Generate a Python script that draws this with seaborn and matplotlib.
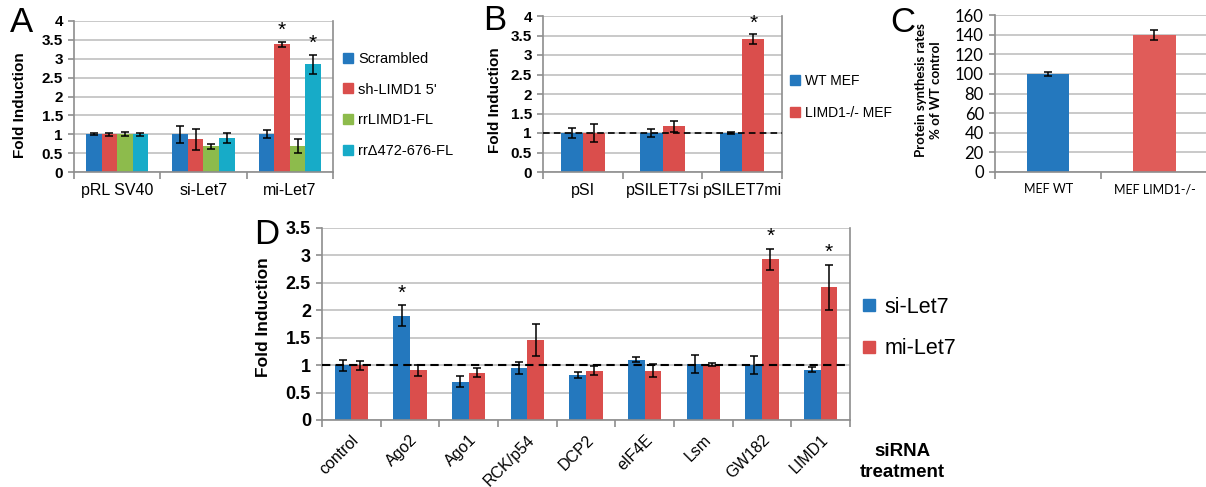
import numpy as np
import pandas as pd
import matplotlib.pyplot as plt
import seaborn as sns
from matplotlib.lines import Line2D
from matplotlib.container import BarContainer

# ---- data ----
# Panel A
a_groups = ["pRL SV40", "si-Let7", "mi-Let7"]
a_series = ["Scrambled", "sh-LIMD1 5'", "rrLIMD1-FL", "rrΔ472-676-FL"]
a_values = [[1.0, 1.0, 1.0], [1.0, 0.87, 3.38], [1.0, 0.68, 0.69], [1.0, 0.90, 2.85]]
a_errors = [[0.02, 0.22, 0.10], [0.04, 0.28, 0.07], [0.05, 0.07, 0.18], [0.04, 0.12, 0.25]]
a_stars = [(1, 2), (3, 2)]  # (series, group)

# Panel B
b_groups = ["pSI", "pSILET7si", "pSILET7mi"]
b_series = ["WT MEF", "LIMD1-/- MEF"]
b_values = [[1.0, 1.0, 1.0], [1.0, 1.17, 3.40]]
b_errors = [[0.13, 0.11, 0.02], [0.22, 0.15, 0.13]]
b_stars = [(1, 2)]

# Panel C
c_groups = ["MEF WT", "MEF LIMD1-/-"]
c_values = [100, 140]
c_errors = [2, 5]

# Panel D
d_groups = ["control", "Ago2", "Ago1", "RCK/p54", "DCP2", "eIF4E", "Lsm", "GW182", "LIMD1"]
d_series = ["si-Let7", "mi-Let7"]
d_values = [[1.0, 1.90, 0.70, 0.95, 0.82, 1.10, 1.02, 1.00, 0.92],
            [1.0, 0.91, 0.86, 1.46, 0.90, 0.90, 1.01, 2.93, 2.42]]
d_errors = [[0.10, 0.19, 0.10, 0.11, 0.05, 0.05, 0.16, 0.16, 0.05],
            [0.08, 0.10, 0.08, 0.29, 0.08, 0.12, 0.02, 0.19, 0.41]]
d_stars = [(0, 1), (1, 7), (1, 8)]

BLUE = "#2478BE"
RED = "#DA4E4C"
GREEN = "#8DBB4C"
CYAN = "#17ABC8"
GRID = "#C0C0C0"
SPINE = "#8E8E8E"

plt.rcParams["font.family"] = ["Liberation Sans", "DejaVu Sans"]

W, H = 1206, 487
fig = plt.figure(figsize=(W / 100, H / 100), dpi=100)


def px_axes(x0, x1, y0, y1):
    return fig.add_axes([x0 / W, 1 - y1 / H, (x1 - x0) / W, (y1 - y0) / H])


def add_errors(ax, errors, stars=(), star_off=0.05):
    bars = [c for c in ax.containers if isinstance(c, BarContainer)]
    for i, cont in enumerate(bars):
        for j, bar in enumerate(cont):
            xc = bar.get_x() + bar.get_width() / 2
            h = bar.get_height()
            ax.errorbar(xc, h, yerr=errors[i][j], fmt="none", ecolor="black",
                        elinewidth=1.1, capsize=3, capthick=1.1, zorder=5)
            if (i, j) in stars:
                ax.text(xc, h + errors[i][j] + star_off, "*", ha="center",
                        va="bottom", fontsize=15, zorder=6)


def draw_bars(ax, groups, series, values, errors, colors, width, stars, star_off):
    rows = []
    for s, vals in zip(series, values):
        for g, v in zip(groups, vals):
            rows.append({"group": g, "series": s, "value": v})
    df = pd.DataFrame(rows)
    sns.barplot(data=df, x="group", y="value", hue="series", hue_order=series,
                order=groups, palette=colors, width=width, saturation=1,
                errorbar=None, legend=False, ax=ax)
    add_errors(ax, errors, stars, star_off)


def style_axes(ax, n, ymax, step, right=True):
    ax.set_xlim(-0.5, n - 0.5)
    ax.set_ylim(0, ymax)
    ax.set_yticks(np.arange(0, ymax + step / 2, step))
    ax.yaxis.grid(True, color=GRID, lw=1.2)
    ax.set_axisbelow(True)
    ax.spines["top"].set_visible(False)
    ax.spines["right"].set_visible(right)
    for sp in ["left", "bottom", "right"]:
        ax.spines[sp].set_color(SPINE)
        ax.spines[sp].set_linewidth(1.2)
    ax.set_xticks(np.arange(-0.5, n, 1.0), minor=True)
    ax.tick_params(axis="x", which="major", length=0, pad=8)
    ax.tick_params(axis="x", which="minor", length=5, color=SPINE, width=1.2)
    ax.tick_params(axis="y", length=4, color=SPINE, width=1.2, pad=4)
    ax.set_xlabel("")
    ax.set_ylabel("")


def fmt_num(v):
    return f"{v:g}"


# ---- Panel A ----
axA = px_axes(74, 333, 21, 172)
draw_bars(axA, a_groups, a_series, a_values, a_errors, [BLUE, RED, GREEN, CYAN],
          0.72, a_stars, 0.05)
style_axes(axA, 3, 4, 0.5)
axA.set_yticklabels([fmt_num(v) for v in np.arange(0, 4.01, 0.5)],
                    fontweight="bold", fontsize=11)
axA.set_xticks(range(3))
axA.set_xticklabels(a_groups, fontsize=11.5)
fig.text(20 / W, 1 - 105 / H, "Fold Induction", rotation=90, ha="center",
         va="center", fontsize=11, fontweight="bold")
fig.text(10 / W, 1 - 22 / H, "A", fontsize=25, ha="left", va="center")

handles = [Line2D([], [], marker="s", ls="", color=c, markersize=6.5)
           for c in [BLUE, RED, GREEN, CYAN]]
fig.legend(handles, a_series, loc="upper left",
           bbox_to_anchor=(336 / W, 1 - 46 / H), frameon=False, fontsize=10.5,
           handlelength=0.8, handletextpad=0.3, labelspacing=1.15, borderaxespad=0)

# ---- Panel B ----
axB = px_axes(543, 782, 16, 172)
draw_bars(axB, b_groups, b_series, b_values, b_errors, [BLUE, RED], 0.56,
          b_stars, 0.05)
style_axes(axB, 3, 4, 0.5)
axB.set_yticklabels([fmt_num(v) for v in np.arange(0, 4.01, 0.5)],
                    fontweight="bold", fontsize=11)
axB.set_xticks(range(3))
axB.set_xticklabels(b_groups, fontsize=11.5)
axB.axhline(1, color="black", ls=(0, (4, 2.5)), lw=1.2, zorder=4)
fig.text(495 / W, 1 - 100 / H, "Fold Induction", rotation=90, ha="center",
         va="center", fontsize=11, fontweight="bold")
fig.text(483 / W, 1 - 20 / H, "B", fontsize=25, ha="left", va="center")

handles = [Line2D([], [], marker="s", ls="", color=c, markersize=6.5)
           for c in [BLUE, RED]]
fig.legend(handles, b_series, loc="upper left",
           bbox_to_anchor=(784 / W, 1 - 68 / H), frameon=False, fontsize=10,
           handlelength=0.8, handletextpad=0.3, labelspacing=1.3, borderaxespad=0)

# ---- Panel C ----
axC = px_axes(995, 1215, 15, 172)
dfc = pd.DataFrame({"group": c_groups, "value": c_values})
sns.barplot(data=dfc, x="group", y="value", hue="group", order=c_groups,
            palette=[BLUE, "#E05C59"], width=0.4, saturation=1, errorbar=None,
            legend=False, ax=axC)
bars_c = [b for c in axC.containers if isinstance(c, BarContainer) for b in c]
for bar, err in zip(bars_c, c_errors):
    axC.errorbar(bar.get_x() + bar.get_width() / 2, bar.get_height(), yerr=err,
                 fmt="none", ecolor="black", elinewidth=1.1, capsize=3,
                 capthick=1.1, zorder=5)
style_axes(axC, 2, 160, 20, right=False)
axC.set_xlim(-0.5, 1.57)
axC.set_xticks([-0.5, 0.5, 1.5], minor=True)
axC.set_yticklabels([str(v) for v in range(0, 161, 20)], fontsize=12,
                    family="Lato")
axC.set_xticks(range(2))
axC.set_xticklabels(c_groups, fontsize=9, family="Lato")
fig.text(928 / W, 1 - 90 / H, "Protein synthesis rates\n% of WT control",
         rotation=90, ha="center", va="center", fontsize=9.5, fontweight="bold",
         family="Lato", linespacing=1.3)
fig.text(890 / W, 1 - 22 / H, "C", fontsize=25, ha="left", va="center")

# ---- Panel D ----
axD = px_axes(322, 850, 228, 420)
draw_bars(axD, d_groups, d_series, d_values, d_errors, [BLUE, RED], 0.57,
          d_stars, 0.05)
style_axes(axD, 9, 3.5, 0.5)
axD.set_yticklabels([fmt_num(v) for v in np.arange(0, 3.51, 0.5)],
                    fontweight="bold", fontsize=13)
axD.set_xticks(range(9))
axD.set_xticklabels(d_groups, fontsize=11.5, rotation=45, ha="right",
                    rotation_mode="anchor")
axD.tick_params(axis="x", which="major", pad=9)
axD.axhline(1, color="black", ls=(0, (4, 2.5)), lw=1.5, zorder=4)
fig.text(263 / W, 1 - 317 / H, "Fold Induction", rotation=90, ha="center",
         va="center", fontsize=12.5, fontweight="bold")
fig.text(254 / W, 1 - 234 / H, "D", fontsize=25, ha="left", va="center")

handles = [Line2D([], [], marker="s", ls="", color=c, markersize=8)
           for c in [BLUE, RED]]
fig.legend(handles, d_series, loc="upper left",
           bbox_to_anchor=(853 / W, 1 - 288 / H), frameon=False, fontsize=15.5,
           handlelength=0.7, handletextpad=0.35, labelspacing=0.95, borderaxespad=0)
fig.text(902 / W, 1 - 462 / H, "siRNA\ntreatment", ha="center", va="center",
         fontsize=13.5, fontweight="bold", linespacing=1.3)

fig.savefig("out.png", dpi=100)
